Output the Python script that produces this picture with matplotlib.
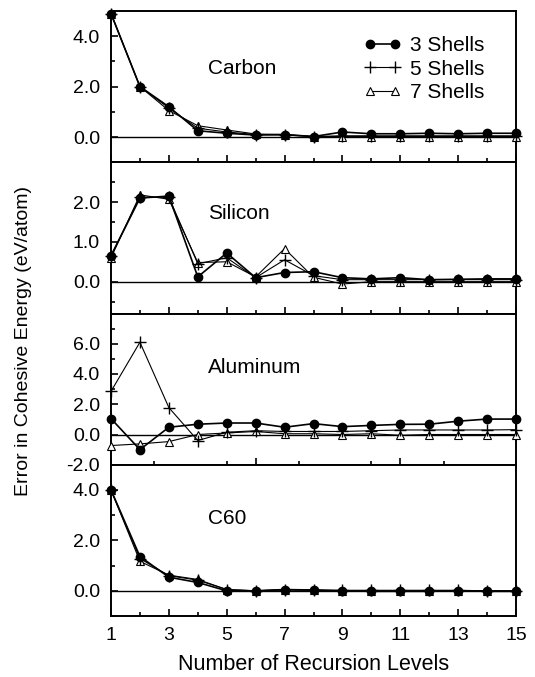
import numpy as np
import matplotlib.pyplot as plt
from matplotlib.ticker import MultipleLocator, FormatStrFormatter

plt.rcParams['font.family'] = ['Liberation Sans', 'DejaVu Sans']
plt.rcParams['font.size'] = 14

levels = np.arange(1, 16)

# Carbon
carbon_3 = [4.9, 2.0, 1.2, 0.25, 0.15, 0.08, 0.1, 0.02, 0.2, 0.13, 0.13, 0.15, 0.13, 0.15, 0.15]
carbon_5 = [4.9, 2.0, 1.15, 0.35, 0.2, 0.1, 0.08, 0.02, 0.05, 0.05, 0.05, 0.05, 0.05, 0.05, 0.05]
carbon_7 = [4.9, 2.0, 1.05, 0.45, 0.28, 0.12, 0.1, 0.02, 0.02, 0.02, 0.02, 0.02, 0.02, 0.02, 0.02]

# Silicon
silicon_3 = [0.65, 2.1, 2.15, 0.12, 0.72, 0.1, 0.23, 0.25, 0.1, 0.07, 0.1, 0.05, 0.06, 0.07, 0.07]
silicon_5 = [0.65, 2.12, 2.12, 0.45, 0.6, 0.1, 0.55, 0.15, 0.05, 0.05, 0.05, 0.05, 0.05, 0.05, 0.05]
silicon_7 = [0.6, 2.18, 2.07, 0.48, 0.5, 0.12, 0.83, 0.11, -0.06, 0.0, 0.0, 0.0, 0.0, 0.0, 0.0]

# Aluminum
aluminum_3 = [1.05, -1.0, 0.48, 0.68, 0.76, 0.76, 0.48, 0.72, 0.52, 0.6, 0.67, 0.68, 0.88, 1.02, 1.02]
aluminum_5 = [2.85, 6.1, 1.78, -0.4, 0.15, 0.25, 0.2, 0.2, 0.2, 0.25, 0.3, 0.3, 0.3, 0.3, 0.32]
aluminum_7 = [-0.73, -0.62, -0.47, 0.0, 0.1, 0.2, 0.05, 0.05, 0.0, 0.05, -0.05, 0.0, 0.0, 0.0, 0.0]

# C60
c60_3 = [4.0, 1.36, 0.54, 0.33, 0.0, 0.0, 0.05, 0.03, 0.0, -0.02, -0.02, -0.02, 0.0, -0.02, -0.02]
c60_5 = [4.0, 1.28, 0.6, 0.42, 0.05, 0.0, 0.05, 0.03, 0.02, 0.02, 0.02, 0.02, 0.02, 0.0, 0.0]
c60_7 = [4.0, 1.17, 0.62, 0.45, 0.05, 0.0, 0.03, 0.02, 0.0, 0.0, 0.0, 0.0, 0.0, 0.0, 0.0]

panels = [
    ("Carbon", carbon_3, carbon_5, carbon_7, (-1, 5), [0, 2, 4], 1, 0.62),
    ("Silicon", silicon_3, silicon_5, silicon_7, (-0.8, 3.0), [0, 1, 2], 0.5, 0.66),
    ("Aluminum", aluminum_3, aluminum_5, aluminum_7, (-2, 8), [-2, 0, 2, 4, 6], 1, 0.645),
    ("C60", c60_3, c60_5, c60_7, (-1, 5), [0, 2, 4], 1, 0.645),
]

fig, axes = plt.subplots(4, 1, figsize=(5.35, 6.77), dpi=100)
fig.subplots_adjust(left=111/535, right=516/535, top=1-11/677, bottom=1-616/677, hspace=0)

for i, (ax, (name, s3, s5, s7, ylim, yt, ymin, ty)) in enumerate(zip(axes, panels)):
    ax.axhline(0, color='black', lw=1.0, zorder=1)
    ax.plot(levels, s7, '-', color='black', lw=0.8, marker='^', ms=6,
            mfc='white', mec='black', mew=0.8, clip_on=False, label='7 Shells', zorder=3)
    ax.plot(levels, s5, '-', color='black', lw=0.8, marker='+', ms=8,
            mew=1.0, clip_on=False, label='5 Shells', zorder=4)
    ax.plot(levels, s3, '-', color='black', lw=1.2, marker='o', ms=6,
            mfc='black', mec='black', clip_on=False, label='3 Shells', zorder=5)

    ax.set_xlim(1, 15)
    ax.set_ylim(*ylim)
    ax.set_yticks(yt)
    ax.yaxis.set_minor_locator(MultipleLocator(ymin))
    ax.yaxis.set_major_formatter(FormatStrFormatter('%.1f'))

    if name == "Aluminum":
        ax.set_xticks([1, 6, 11])
        ax.xaxis.set_minor_locator(MultipleLocator(2.5))
    else:
        ax.set_xticks(np.arange(1, 16, 2))
        ax.xaxis.set_minor_locator(MultipleLocator(1))

    ax.tick_params(which='both', direction='in', top=False, right=False, width=1.2)
    ax.tick_params(which='major', length=5, pad=8, labelsize=14)
    ax.tick_params(which='minor', length=3)
    ax.tick_params(axis='x', labelbottom=(i == 3), pad=8)
    for sp in ax.spines.values():
        sp.set_linewidth(1.4)

    ax.text(0.24, ty, name, transform=ax.transAxes, fontsize=15, va='center', ha='left')

handles, labels = axes[0].get_legend_handles_labels()
axes[0].legend(handles[::-1], labels[::-1], loc='upper right', bbox_to_anchor=(0.943, 0.89),
               frameon=False, handlelength=1.8, handletextpad=0.45, labelspacing=0.22,
               numpoints=2, fontsize=15, borderaxespad=0)

axes[3].set_xlabel('Number of Recursion Levels', fontsize=15.5, labelpad=7)
fig.text(24/535, 1-341/677, 'Error in Cohesive Energy (eV/atom)', rotation=90,
         ha='center', va='center', fontsize=14)

plt.savefig('out.png', dpi=100)
